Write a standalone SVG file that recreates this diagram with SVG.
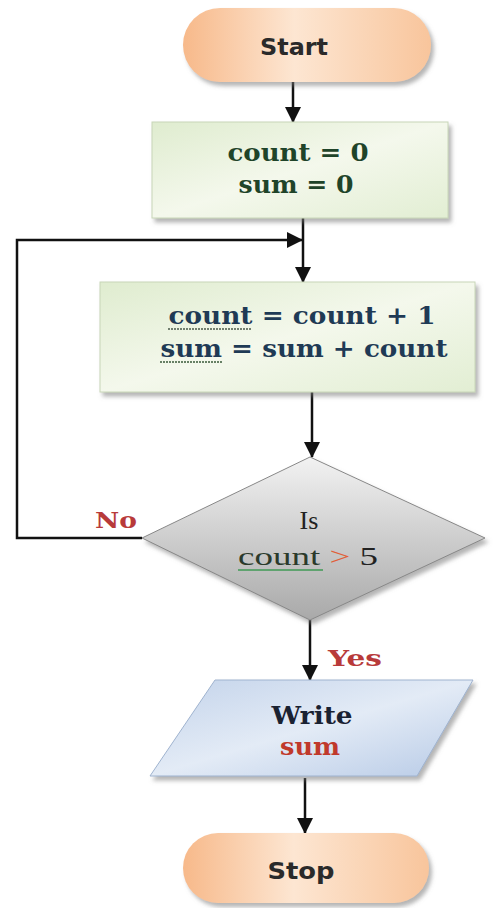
<svg xmlns="http://www.w3.org/2000/svg" width="502" height="908" viewBox="0 0 502 908">
<defs>
<linearGradient id="gTerm" x1="0" y1="0" x2="1" y2="0">
<stop offset="0" stop-color="#f7b98a"/><stop offset="0.45" stop-color="#fde6d2"/><stop offset="1" stop-color="#f8c59c"/>
</linearGradient>
<linearGradient id="gGreen" x1="0" y1="0" x2="1" y2="1">
<stop offset="0" stop-color="#dfeccf"/><stop offset="0.5" stop-color="#f4f8ec"/><stop offset="1" stop-color="#e2eed3"/>
</linearGradient>
<linearGradient id="gGray" x1="0" y1="0" x2="0" y2="1">
<stop offset="0" stop-color="#f2f2f2"/><stop offset="1" stop-color="#a9a9a9"/>
</linearGradient>
<linearGradient id="gBlue" x1="0" y1="0" x2="1" y2="1">
<stop offset="0" stop-color="#c3d3ea"/><stop offset="0.5" stop-color="#e3ebf6"/><stop offset="1" stop-color="#b7cae6"/>
</linearGradient>
<filter id="sh" x="-10%" y="-10%" width="125%" height="130%">
<feDropShadow dx="3" dy="4" stdDeviation="2" flood-color="#777" flood-opacity="0.55"/>
</filter>
<marker id="arr" markerUnits="userSpaceOnUse" markerWidth="16" markerHeight="16" refX="15" refY="8" orient="auto">
<path d="M0,0 L16,8 L0,16 z" fill="#111"/>
</marker>
</defs>
<style>
.conn{fill:none;stroke:#111;stroke-width:2.5}
.term{font-family:"DejaVu Sans",sans-serif;font-weight:bold;font-size:23px;fill:#2a2a2a;text-anchor:middle}
.bx{font-family:"DejaVu Serif","Liberation Serif",serif;font-weight:bold;font-size:24px;text-anchor:middle}
.lbl{font-family:"DejaVu Serif","Liberation Serif",serif;font-weight:bold;font-size:23px;fill:#b83a3a}
.dia{font-family:"Liberation Serif",serif;font-size:26px;fill:#222;text-anchor:middle}
.ul{stroke-width:1.6;fill:none}
</style>
<g id="connectors">
<line class="conn" x1="293" y1="82" x2="293" y2="122" marker-end="url(#arr)"/>
<line class="conn" x1="303" y1="218" x2="303" y2="282" marker-end="url(#arr)"/>
<polyline class="conn" points="142,538 17,538 17,240 302,240" marker-end="url(#arr)"/>
<line class="conn" x1="312" y1="392" x2="312" y2="457" marker-end="url(#arr)"/>
<line class="conn" x1="310" y1="620" x2="310" y2="680" marker-end="url(#arr)"/>
<line class="conn" x1="305" y1="778" x2="305" y2="833" marker-end="url(#arr)"/>
<text class="lbl" x="95" y="528" textLength="42" lengthAdjust="spacingAndGlyphs">No</text>
<text class="lbl" x="328" y="666" textLength="54" lengthAdjust="spacingAndGlyphs">Yes</text>
</g>
<g id="start">
<rect x="183" y="8" width="248" height="74" rx="37" fill="url(#gTerm)" filter="url(#sh)"/>
<text class="term" x="294" y="55" textLength="68" lengthAdjust="spacingAndGlyphs">Start</text>
</g>
<g id="init">
<rect x="152" y="122" width="296" height="96" fill="url(#gGreen)" stroke="#c8d6b8" stroke-width="1" filter="url(#sh)"/>
<text class="bx" x="298" y="161" fill="#1f4429" textLength="141" lengthAdjust="spacingAndGlyphs">count = 0</text>
<text class="bx" x="296" y="193" fill="#1f4429" textLength="115" lengthAdjust="spacingAndGlyphs">sum = 0</text>
</g>
<g id="update">
<rect x="100" y="282" width="375" height="110" fill="url(#gGreen)" stroke="#c8d6b8" stroke-width="1" filter="url(#sh)"/>
<text class="bx" x="302" y="324" fill="#1f3a55" textLength="267" lengthAdjust="spacingAndGlyphs">count = count + 1</text>
<text class="bx" x="304" y="357" fill="#1f3a55" textLength="287" lengthAdjust="spacingAndGlyphs">sum = sum + count</text>
<line class="ul" x1="168" y1="329" x2="252" y2="329" stroke="#4a5a4a" stroke-dasharray="2,1"/>
<line class="ul" x1="160" y1="362" x2="222" y2="362" stroke="#3a5a3a" stroke-dasharray="2,1"/>
</g>
<g id="decision">
<polygon points="310,457 485,538 310,620 142,538" fill="url(#gGray)" stroke="#888" stroke-width="1" filter="url(#sh)"/>
<text class="dia" x="309" y="529">Is</text>
<text class="dia" x="308" y="565" textLength="140" lengthAdjust="spacingAndGlyphs"><tspan fill="#2b3a2b">count</tspan><tspan fill="#e0603a"> &gt; </tspan>5</text>
<line class="ul" x1="238" y1="570" x2="323" y2="570" stroke="#3f9a55"/>
</g>
<g id="output">
<polygon points="215,680 473,680 417,776 150,776" fill="url(#gBlue)" stroke="#9fb3cf" stroke-width="1" filter="url(#sh)"/>
<text class="bx" x="312" y="724" fill="#1a2232" textLength="81" lengthAdjust="spacingAndGlyphs">Write</text>
<text class="bx" x="310" y="755" fill="#c0392b" textLength="60" lengthAdjust="spacingAndGlyphs">sum</text>
</g>
<g id="stop">
<rect x="183" y="833" width="246" height="70" rx="35" fill="url(#gTerm)" filter="url(#sh)"/>
<text class="term" x="301" y="879" textLength="67" lengthAdjust="spacingAndGlyphs">Stop</text>
</g>
</svg>
